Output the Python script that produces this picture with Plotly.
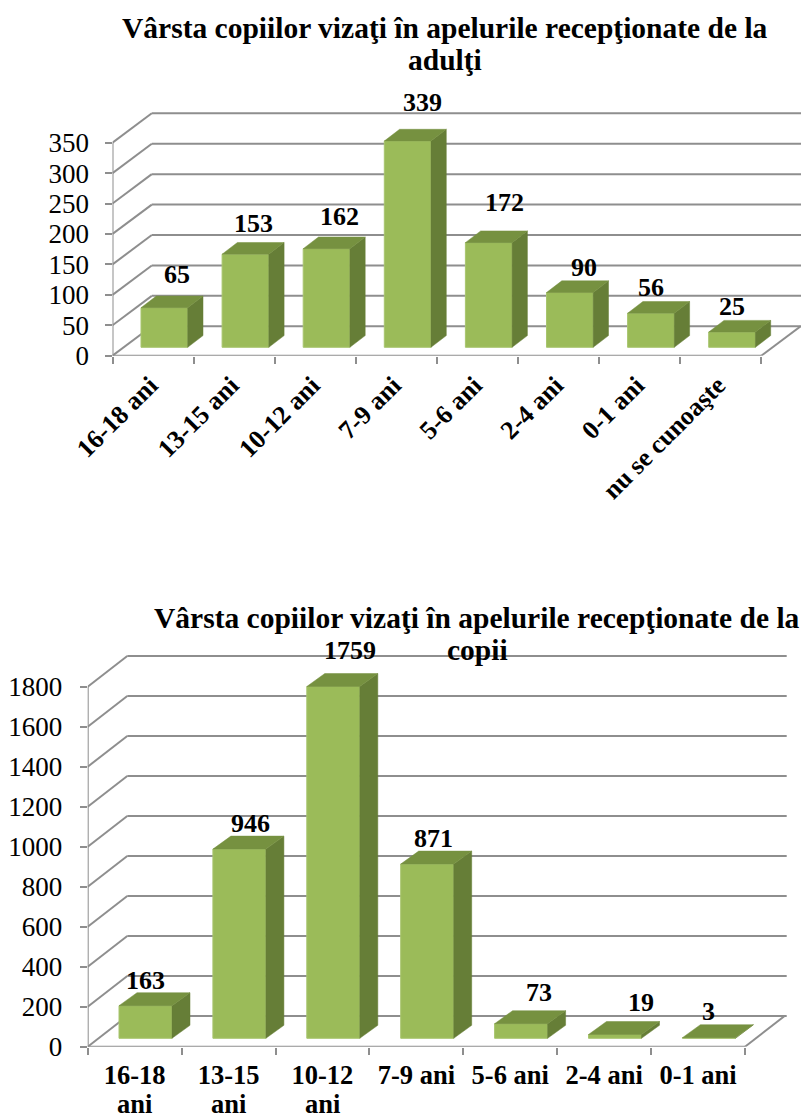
import plotly.graph_objects as go

W, H = 801, 1118
FONT = "Liberation Serif"
FRONT, TOP, SIDE, EDGE = "#9BBB59", "#769140", "#667E37", "#A8C56E"
GRID = "#8E8E8E"

# ---- data ----
titles_a = ["Vârsta copiilor vizaţi în apelurile recepţionate de la", "adulţi"]
cats_a = ["16-18 ani", "13-15 ani", "10-12 ani", "7-9 ani", "5-6 ani", "2-4 ani", "0-1 ani", "nu se cunoaşte"]
cats2_a = [""] * 8
vals_a = [65, 153, 162, 339, 172, 90, 56, 25]
ticks_a = [0, 50, 100, 150, 200, 250, 300, 350]
lab_dx_a = [13, 8, 12.5, 14.4, 16, 14, 0, 0]
lab_dy_a = [33.7, 31, 32.6, 38, 40.5, 25.5, 26, 26]

titles_b = ["Vârsta copiilor vizaţi în apelurile recepţionate de la", "copii"]
cats_b = ["16-18", "13-15", "10-12", "7-9 ani", "5-6 ani", "2-4 ani", "0-1 ani"]
cats2_b = ["ani", "ani", "ani", "", "", "", ""]
vals_b = [163, 946, 1759, 871, 73, 19, 3]
ticks_b = [0, 200, 400, 600, 800, 1000, 1200, 1400, 1600, 1800]
lab_dx_b = [0, 11, 16.5, 6, 18, 26, 0]
lab_dy_b = [25.7, 26, 35.8, 26, 31.7, 31.8, 26]

fig = go.Figure()
shapes, annots = [], []


def panel(idx, cats, cats2, vals, ticks, lab_dx, lab_dy, titles, geo):
    xa, ya = ("x", "y") if idx == 1 else (f"x{idx}", f"y{idx}")
    xn, yn = ("xaxis", "yaxis") if idx == 1 else (f"xaxis{idx}", f"yaxis{idx}")
    n = len(cats)
    catw = geo["catw"]
    ppu = geo["ppu"]
    x0 = geo["x0"]
    y0 = geo["y0"]
    ytop = geo["top"]
    ddx, ddy = geo["ddx"] / catw, geo["ddy"] / ppu
    left, width = geo["bar_left"] / catw, geo["bar_w"] / catw
    sdx, sdy = geo["side_dx"] / catw, geo["side_dy"] / ppu
    floor = geo["floor"] / ppu
    xmax = (W - x0) / catw
    pad_px = 3
    ymax = (y0 - ytop + pad_px) / ppu

    line = dict(color=GRID, width=2)
    for t in ticks:
        shapes.append(dict(type="line", xref=xa, yref=ya, layer="below", x0=0, y0=t, x1=ddx, y1=t + ddy, line=line))
        shapes.append(dict(type="line", xref=xa, yref=ya, layer="below", x0=ddx, y0=t + ddy, x1=geo["xback"], y1=t + ddy, line=line))
    shapes.append(dict(type="line", xref=xa, yref=ya, layer="below", x0=n, y0=0, x1=n + ddx, y1=ddy, line=line))

    # axis lines in the front plane
    fig.add_trace(go.Scatter(x=[0, 0, None, 0, n], y=[max(ticks), 0, None, 0, 0], mode="lines", line=line,
                             cliponaxis=False, hoverinfo="skip", xaxis=xa, yaxis=ya))

    bx = [i + left + width / 2 for i in range(n)]
    fig.add_trace(go.Bar(x=bx, y=vals, base=[floor] * n, width=[width] * n,
                         marker=dict(color=FRONT, line=dict(color=EDGE, width=1)),
                         hoverinfo="skip", xaxis=xa, yaxis=ya))

    sx, sy, tx, ty = [], [], [], []
    for i, v in enumerate(vals):
        l = i + left
        r = l + width
        b = floor
        h = floor + v
        sx += [r, r + sdx, r + sdx, r, r, None]
        sy += [b, b + sdy, h + sdy, h, b, None]
        tx += [l, r, r + sdx, l + sdx, l, None]
        ty += [h, h, h + sdy, h + sdy, h, None]
    for px, py, c in ((sx, sy, SIDE), (tx, ty, TOP)):
        fig.add_trace(go.Scatter(x=px, y=py, mode="lines", fill="toself", fillcolor=c,
                                 line=dict(color=c, width=0.5), hoverinfo="skip", xaxis=xa, yaxis=ya))

    for i, v in enumerate(vals):
        annots.append(dict(x=bx[i], y=floor + v, xref=xa, yref=ya, text=f"<b>{v}</b>", showarrow=False,
                           xanchor="center", yanchor="middle", xshift=lab_dx[i], yshift=lab_dy[i],
                           font=dict(family=FONT, size=geo["lab_fs"], color="black")))
    for text, ty_px in zip(titles, geo["title_ys"]):
        annots.append(dict(x=geo["title_x"] / W, y=1 - ty_px / H, xref="paper", yref="paper",
                           text=f"<b>{text}</b>", showarrow=False, xanchor="center", yanchor="middle",
                           align="center", font=dict(family=FONT, size=geo["title_fs"], color="black")))
    tickx = [i + 0.5 + geo["xlab_nudge"] / catw for i in range(n)]
    for i, t in enumerate(cats2):
        if t:
            annots.append(dict(x=tickx[i], y=0, xref=xa, yref=ya, text=f"<b>{t}</b>", showarrow=False,
                               xanchor="center", yanchor="middle", yshift=-geo["row2_dy"],
                               font=dict(family=FONT, size=geo["xfs"], color="black")))

    fig.update_layout({
        xn: dict(domain=[x0 / W, 1], range=[0, xmax], anchor=ya, showgrid=False, zeroline=False,
                 showline=False, automargin=False, tickmode="array", tickvals=tickx, ticktext=cats,
                 ticks="outside", ticklen=geo["xstand"], tickcolor="rgba(0,0,0,0)", tickangle=geo["angle"],
                 tickfont=dict(family=FONT, size=geo["xfs"], color="black", weight="bold"),
                 minor=dict(tickmode="array", tickvals=list(range(n + 1)), ticks="outside", ticklen=7,
                            tickcolor=GRID, tickwidth=2, showgrid=False)),
        yn: dict(domain=[1 - y0 / H, 1 - (ytop - pad_px) / H], range=[0, ymax], anchor=xa,
                 showgrid=False, zeroline=False, showline=False, automargin=False, tickmode="array", tickvals=ticks,
                 ticks="outside", ticklen=7, tickwidth=2, tickcolor=GRID, ticklabelstandoff=geo["ystand"],
                 tickfont=dict(family=FONT, size=geo["yfs"], color="black")),
    })


panel(1, cats_a, cats2_a, vals_a, ticks_a, lab_dx_a, lab_dy_a, titles_a,
      dict(x0=112.5, y0=355.7, top=113.3, catw=81.1, ppu=213 / 350, ddx=39.3, ddy=29.4,
           bar_left=28.5, bar_w=46.7, side_dx=15.3, side_dy=11.7, floor=8.4, xback=(801 - 112.5) / 81.1,
           lab_fs=26, title_x=445, title_ys=[28, 60], title_fs=29.5, yfs=27, xfs=26, xstand=3, angle=-45,
           ystand=10, xlab_nudge=-3, row2_dy=57))
panel(2, cats_b, cats2_b, vals_b, ticks_b, lab_dx_b, lab_dy_b, titles_b,
      dict(x0=87.7, y0=1046.7, top=656, catw=93.9, ppu=0.2, ddx=39.6, ddy=30.7,
           bar_left=31.3, bar_w=53, side_dx=18, side_dy=13, floor=8.4, xback=(786.7 - 87.7) / 93.9,
           lab_fs=26, title_x=477, title_ys=[618, 650], title_fs=29.5, yfs=27, xfs=26.5, xstand=4, angle=0,
           ystand=12, xlab_nudge=0, row2_dy=57))

fig.update_layout(width=W, height=H, autosize=False, margin=dict(l=0, r=0, t=0, b=0), paper_bgcolor="white",
                  plot_bgcolor="white", showlegend=False, shapes=shapes, annotations=annots, barmode="overlay")
fig.write_html("out.html", config=dict(displayModeBar=False),
               post_script="document.body.style.margin='0';document.documentElement.style.overflow='hidden';")
